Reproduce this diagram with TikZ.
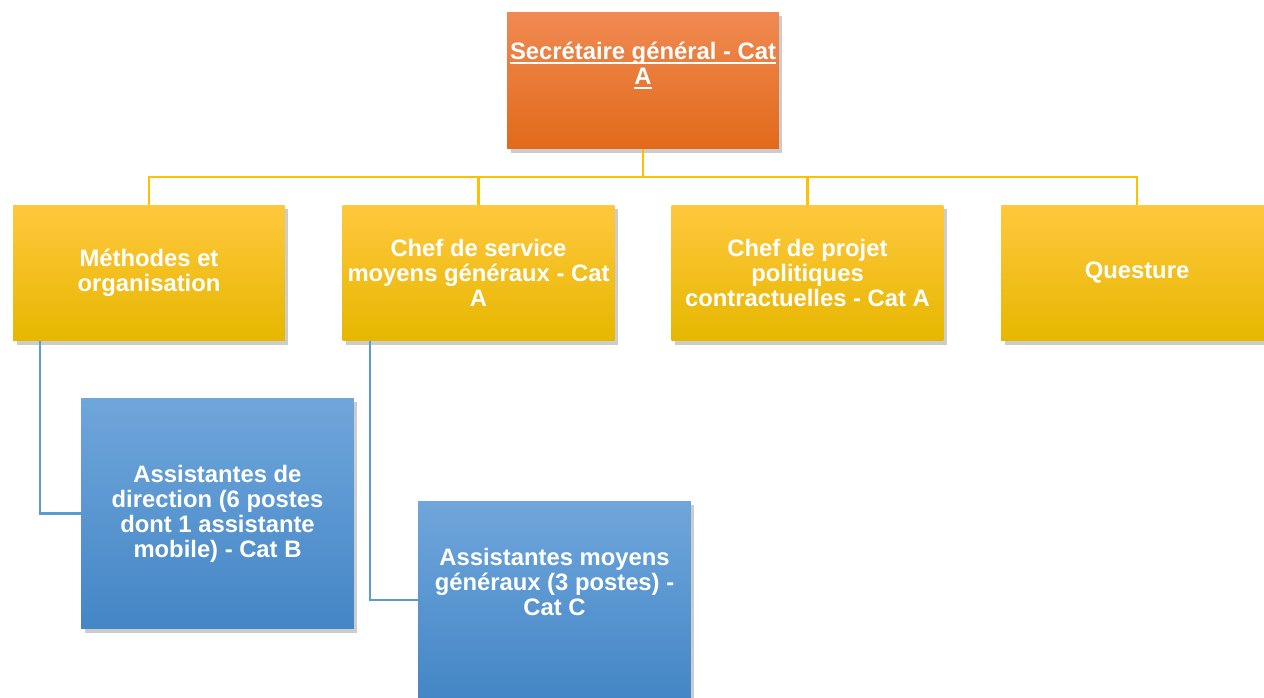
\documentclass[tikz,border=0pt]{standalone}
\usepackage{fontspec}
\setmainfont{Liberation Sans}
\usetikzlibrary{shadows}
\newcommand{\sgunder}[1]{\setbox0\hbox{#1}\rlap{\rule[-3pt]{\wd0}{1.5pt}}\box0}
\definecolor{orange-top}{HTML}{F08A52}
\definecolor{orange-mid}{HTML}{F57F2A}
\definecolor{orange-bot}{HTML}{E2691A}
\definecolor{gold-top}{HTML}{FFC83D}
\definecolor{gold-mid}{HTML}{FFC000}
\definecolor{gold-bot}{HTML}{E6B700}
\definecolor{blue-top}{HTML}{6FA6DB}
\definecolor{blue-mid}{HTML}{5B9BD5}
\definecolor{blue-bot}{HTML}{4486C6}
\tikzset{
    org-box/.style = {rectangle, align=center, text=white, inner sep=0pt,
        font=\fontsize{13.55}{14.2}\selectfont\bfseries, minimum width=5.44cm,
        drop shadow={shadow xshift=0.07cm, shadow yshift=-0.08cm, opacity=0.4}},
    head-box/.style = {org-box, minimum height=2.74cm, top color=orange-top, middle color=orange-mid, bottom color=orange-bot,
        text height=0.36cm, text depth=0.22cm},
    unit-box/.style = {org-box, minimum height=2.72cm, top color=gold-top, middle color=gold-mid, bottom color=gold-bot},
    staff-box/.style = {org-box, minimum width=5.46cm, top color=blue-top, middle color=blue-mid, bottom color=blue-bot},
    org-link/.style = {draw=gold-mid, line width=1.4pt},
    staff-link/.style = {draw=blue-mid, line width=1.3pt},
}

\begin{document}
\begin{tikzpicture}[x=0.02cm, y=-0.02cm]
\useasboundingbox (0,0) rectangle (1264,697);

% connectors
\coordinate (bus) at (643,177);
\node [head-box] (sg) at (643,80.5) {\sgunder{Secrétaire général - Cat}\\\sgunder{A}};
\node [unit-box] (meth) at (149,273) {Méthodes et\\organisation};
\node [unit-box] (moyens) at (478.5,273) {Chef de service\\moyens généraux - Cat\\A};
\node [unit-box] (projet) at (807.5,273) {Chef de projet\\politiques\\contractuelles - Cat A};
\node [unit-box] (questure) at (1137,273) {Questure};

\draw [org-link] (sg.south) -- (bus) -| (meth.north);
\draw [org-link] (bus) -| (moyens.north);
\draw [org-link] (bus) -| (projet.north);
\draw [org-link] (bus) -| (questure.north);

\node [staff-box, minimum height=4.62cm] (asdir) at (217.5,513.5) {Assistantes de\\direction (6 postes\\dont 1 assistante\\mobile) - Cat B};
\node [staff-box, minimum height=3.96cm, text height=2.24cm, text depth=1.62cm] (asmg) at (554.5,600) {Assistantes moyens\\généraux (3 postes) -\\Cat C};

\draw [staff-link] ([xshift=0.54cm]meth.south west) |- (asdir.west);
\draw [staff-link] ([xshift=0.56cm]moyens.south west) |- (asmg.west);
\end{tikzpicture}
\end{document}
